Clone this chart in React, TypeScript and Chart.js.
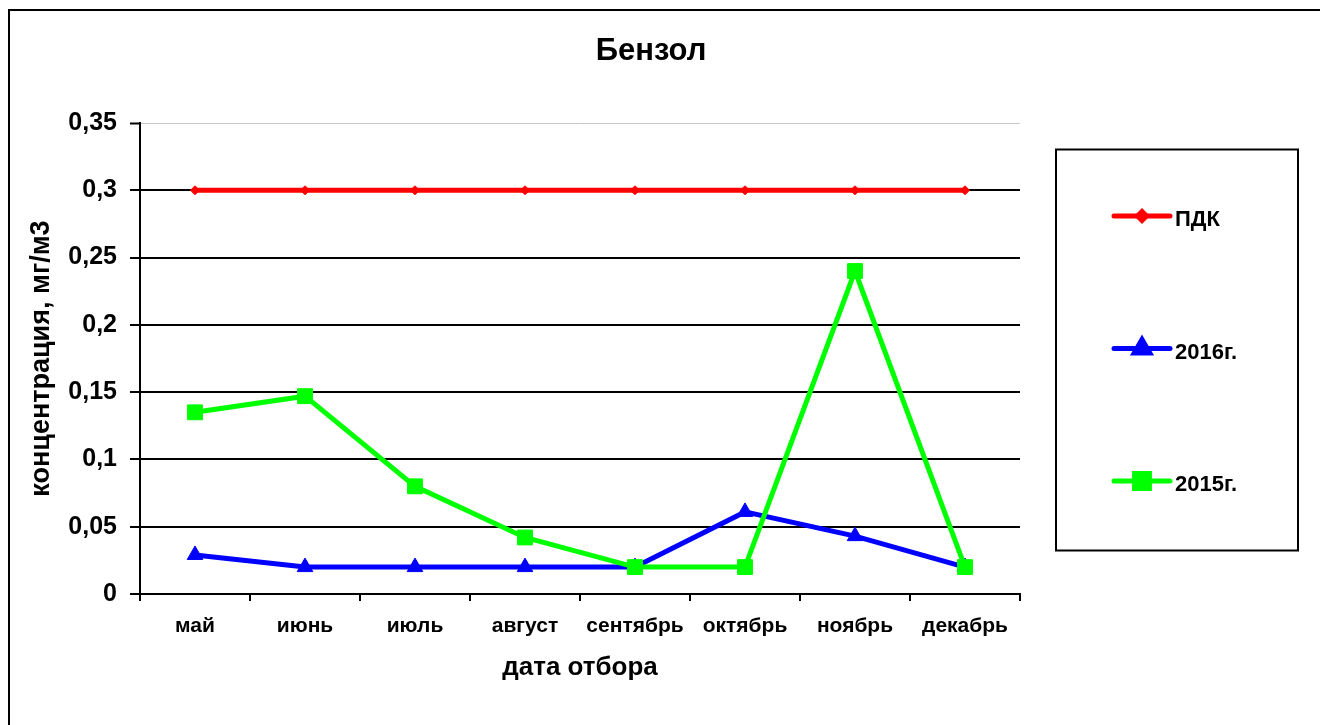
import React, { useEffect, useRef } from "react";
import { Chart, registerables } from "chart.js";
import { drawPoint } from "chart.js/helpers";

Chart.register(...registerables);

const categories = ["май", "июнь", "июль", "август", "сентябрь", "октябрь", "ноябрь", "декабрь"];
const pdkValues = [0.3, 0.3, 0.3, 0.3, 0.3, 0.3, 0.3, 0.3];
const values2016 = [0.029, 0.02, 0.02, 0.02, 0.02, 0.061, 0.043, 0.02];
const values2015 = [0.135, 0.147, 0.08, 0.042, 0.02, 0.02, 0.24, 0.02];
const yTickLabels = ["0", "0,05", "0,1", "0,15", "0,2", "0,25", "0,3", "0,35"];
const seriesNames = ["ПДК", "2016г.", "2015г."];
const chartTitle = "Бензол";
const xAxisTitle = "дата отбора";
const yAxisTitle = "концентрация, мг/м3";

const FONT = '"Liberation Sans", Arial, sans-serif';

const framePlugin = {
  id: "frame",
  afterDraw(chart: any) {
    const ctx = chart.ctx;
    ctx.save();
    // outer border
    ctx.strokeStyle = "#000";
    ctx.lineWidth = 2;
    ctx.strokeRect(9, 10, 1400, 800);
    // title
    ctx.fillStyle = "#000";
    ctx.font = `bold 31px ${FONT}`;
    ctx.textAlign = "center";
    ctx.textBaseline = "alphabetic";
    ctx.fillText(chartTitle, 651, 60);
    // legend box
    const bx = 1056, by = 149.5, bw = 242, bh = 401;
    ctx.lineWidth = 2;
    ctx.strokeStyle = "#000";
    ctx.strokeRect(bx, by, bw, bh);
    const mid = by + bh / 2;
    const gap = 132.5;
    chart.data.datasets.forEach((ds: any, i: number) => {
      const yy = mid + (i - 1) * gap - 1.5;
      ctx.save();
      ctx.strokeStyle = ds.borderColor;
      ctx.lineWidth = ds.borderWidth;
      ctx.lineCap = "round";
      ctx.beginPath();
      ctx.moveTo(1114, yy);
      ctx.lineTo(1170, yy);
      ctx.stroke();
      ctx.fillStyle = ds.backgroundColor;
      ctx.strokeStyle = ds.borderColor;
      drawPoint(ctx, { pointStyle: ds.pointStyle, radius: ds.pointRadius, borderWidth: 1, rotation: 0 }, 1142, yy);
      ctx.restore();
      ctx.fillStyle = "#000";
      ctx.font = `bold 22px ${FONT}`;
      ctx.textAlign = "left";
      ctx.textBaseline = "alphabetic";
      ctx.fillText(ds.label, 1175, yy + 10);
    });
    ctx.restore();
  },
};

export default function App() {
  const ref = useRef<HTMLCanvasElement | null>(null);
  useEffect(() => {
    if (!ref.current) return;
    const chart = new Chart(ref.current, {
      type: "line",
      data: {
        labels: categories,
        datasets: [
          {
            label: seriesNames[0],
            data: pdkValues,
            borderColor: "#ff0000",
            backgroundColor: "#ff0000",
            borderWidth: 5,
            pointStyle: "rectRot",
            pointRadius: 4.5,
            pointBorderWidth: 1,
            order: 3,
            tension: 0,
          },
          {
            label: seriesNames[1],
            data: values2016,
            borderColor: "#0000ff",
            backgroundColor: "#0000ff",
            borderWidth: 5,
            pointStyle: "triangle",
            pointRadius: 9,
            pointBorderWidth: 1,
            order: 2,
            tension: 0,
          },
          {
            label: seriesNames[2],
            data: values2015,
            borderColor: "#00ff00",
            backgroundColor: "#00ff00",
            borderWidth: 5,
            pointStyle: "rect",
            pointRadius: 10.5,
            pointBorderWidth: 1,
            order: 1,
            tension: 0,
          },
        ] as any,
      },
      options: {
        animation: false,
        responsive: false,
        devicePixelRatio: 1,
        clip: false as any,
        layout: { padding: { left: 25, top: 123, right: 300, bottom: 41.7 } },
        plugins: {
          legend: { display: false },
          tooltip: { enabled: false },
          title: { display: false },
        },
        scales: {
          x: {
            offset: true,
            grid: {
              offset: true,
              drawOnChartArea: false,
              drawTicks: true,
              tickLength: 7,
              color: "#000",
              lineWidth: 2,
            },
            border: { color: "#000", width: 2 },
            ticks: {
              color: "#000",
              font: { family: FONT, size: 21, weight: "bold" },
              padding: 12.8,
              maxRotation: 0,
              autoSkip: false,
            },
            title: {
              display: true,
              text: xAxisTitle,
              color: "#000",
              font: { family: FONT, size: 26, weight: "bold" },
              padding: 0,
            },
            afterFit: (s: any) => {
              s.height = 89.3;
            },
          },
          y: {
            min: 0,
            max: 0.35,
            ticks: {
              stepSize: 0.05,
              color: "#000",
              font: { family: FONT, size: 25, weight: "bold" },
              padding: 13,
              callback: (_v: any, i: number) => yTickLabels[i],
            },
            grid: {
              color: (c: any) => (c.index === yTickLabels.length - 1 ? "#c8c8c8" : "#000"),
              lineWidth: (c: any) => (c.index === yTickLabels.length - 1 ? 1 : 2),
              tickColor: "#000",
              tickLength: 10,
              tickWidth: 2,
            },
            border: { color: "#000", width: 2 },
            title: {
              display: true,
              text: yAxisTitle,
              color: "#000",
              font: { family: FONT, size: 27, weight: "bold" },
              padding: 0,
            },
            afterFit: (s: any) => {
              s.width = 115;
            },
          },
        },
      } as any,
      plugins: [framePlugin],
    });
    return () => chart.destroy();
  }, []);
  return (
    <div style={{ position: "fixed", left: 0, top: 0, width: 1320, height: 725, background: "#fff" }}>
      <canvas ref={ref} width={1320} height={725} style={{ display: "block", width: 1320, height: 725 }} />
    </div>
  );
}
